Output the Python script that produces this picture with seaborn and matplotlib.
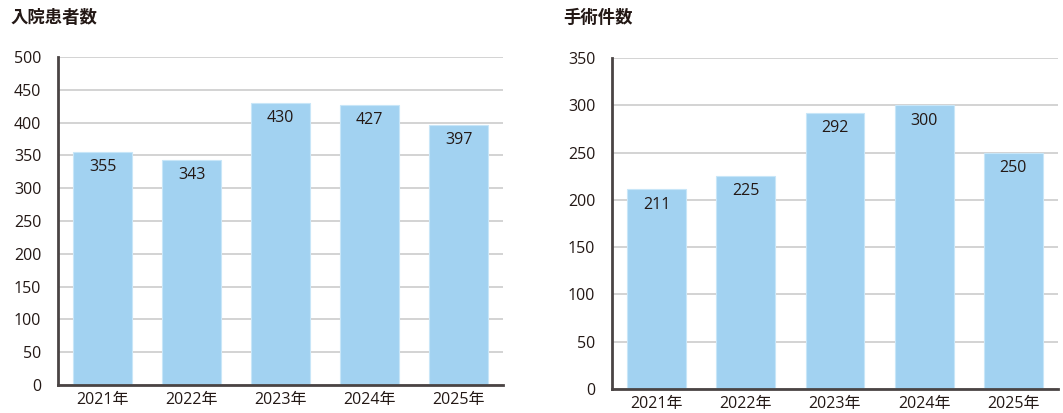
import pandas as pd
import matplotlib
matplotlib.use("Agg")
import matplotlib.pyplot as plt
import seaborn as sns

# data
years = ['2021年', '2022年', '2023年', '2024年', '2025年']
inpatients = [355, 343, 430, 427, 397]
surgeries = [211, 225, 292, 300, 250]

sns.set_theme(style="white")
plt.rcParams['font.family'] = ['Open Sans', 'Noto Sans CJK JP', 'DejaVu Sans']

bar_color = '#a2d2f1'
text_color = '#231815'
spine_color = '#4a4444'

fig = plt.figure(figsize=(10.63, 4.13), dpi=100)
ax1 = fig.add_axes([0.0546, 0.0678, 0.4186, 0.794])
ax2 = fig.add_axes([0.5757, 0.0581, 0.4196, 0.8015])


def draw(ax, values, ymax, step, title, title_x):
    df = pd.DataFrame({'year': years, 'value': values})
    sns.barplot(data=df, x='year', y='value', color=bar_color, width=0.66,
                edgecolor='#c8e6f8', linewidth=0.8, saturation=1, ax=ax, zorder=3)
    ax.set_ylim(0, ymax)
    ax.set_xlim(-0.5, len(years) - 0.5)
    ax.set_yticks(range(0, ymax + 1, step))
    ax.yaxis.grid(True, color='#cccccc', linewidth=1.2, zorder=0)
    ax.set_axisbelow(True)
    ax.set_xlabel('')
    ax.set_ylabel('')
    for s in ['top', 'right']:
        ax.spines[s].set_visible(False)
    for s in ['left', 'bottom']:
        ax.spines[s].set_color(spine_color)
        ax.spines[s].set_linewidth(2)
        ax.spines[s].set_zorder(5)
    ax.tick_params(axis='y', length=0, pad=12, labelsize=11.5, labelcolor=text_color)
    ax.tick_params(axis='x', length=0, pad=5, labelsize=11.5, labelcolor=text_color)
    for i, v in enumerate(values):
        ax.annotate(str(v), (i, v), xytext=(0, -11), textcoords='offset points',
                    ha='center', va='center', fontsize=11.5, color=text_color, zorder=6)
    fig.text(title_x, 1 - 18 / 413, title, fontsize=12.5, fontweight='bold',
             family=['Noto Sans CJK JP', 'DejaVu Sans'],
             color=text_color, ha='left', va='center')


draw(ax1, inpatients, 500, 50, '入院患者数', 11 / 1063)
draw(ax2, surgeries, 350, 50, '手術件数', 563 / 1063)

fig.savefig('out.png', dpi=100)
